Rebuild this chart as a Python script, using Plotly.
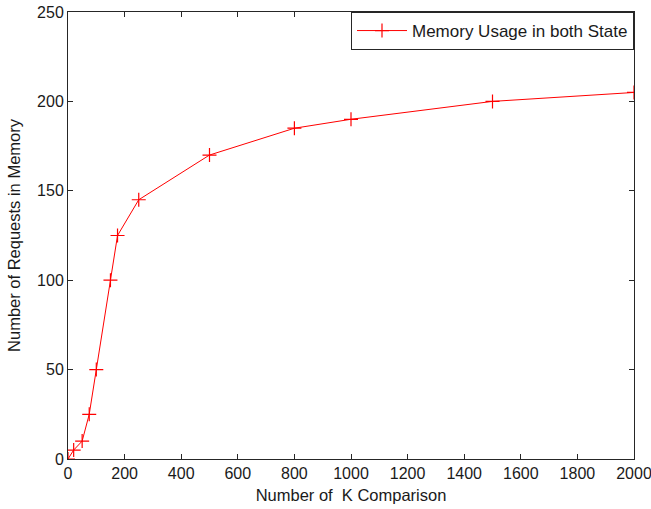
import plotly.graph_objects as go

k_comparisons = [0, 20, 50, 75, 100, 150, 175, 250, 500, 800, 1000, 1500, 2000]
requests_in_memory = [0, 5, 10, 25, 50, 100, 125, 145, 170, 185, 190, 200, 205]
series_name = "Memory Usage in both State"
x_ticks = list(range(0, 2001, 200))
y_ticks = list(range(0, 251, 50))

fig = go.Figure()
fig.add_trace(go.Scatter(
    x=k_comparisons, y=requests_in_memory, name=series_name,
    mode="lines+markers",
    line=dict(color="#ff0000", width=1),
    marker=dict(symbol="cross-thin", size=10, line=dict(color="#ff0000", width=1.2), color="#ff0000"),
))

axis_common = dict(
    showgrid=False, zeroline=False, showline=True, linecolor="#262626", linewidth=1,
    mirror="ticks", ticks="inside", ticklen=5, tickcolor="#262626",
    tickfont=dict(family="Liberation Sans, Arial", size=16, color="#1a1a1a"),
    automargin=False, ticklabeloverflow="allow",
)

fig.update_layout(
    width=651, height=509,
    margin=dict(l=68, r=17, t=12, b=50),
    paper_bgcolor="white", plot_bgcolor="white",
    font=dict(family="Liberation Sans, Arial", size=16, color="#1a1a1a"),
    xaxis=dict(range=[0, 2000], tickvals=x_ticks,
               title=dict(text="Number of  K Comparison", standoff=8, font=dict(size=16.5)),
               **axis_common),
    yaxis=dict(range=[0, 250], tickvals=y_ticks,
               title=dict(text="Number of Requests in Memory", standoff=12, font=dict(size=16.5)),
               **axis_common),
    legend=dict(x=1, y=1, xanchor="right", yanchor="top",
                bordercolor="#262626", borderwidth=1, bgcolor="white",
                font=dict(size=17), itemwidth=50),
    showlegend=True,
)

# remove the page's default 8px body margin so the figure fills the window exactly
fig.write_html(
    "out.html",
    config={"displayModeBar": False},
    post_script="document.body.style.margin='0';document.body.style.overflow='hidden';",
)
